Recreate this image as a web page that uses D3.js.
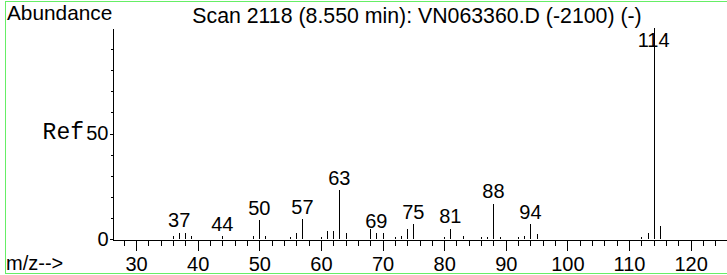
<!DOCTYPE html>
<html>
<head>
<meta charset="utf-8">
<script src="https://cdnjs.cloudflare.com/ajax/libs/d3/7.8.5/d3.min.js"></script>
<style>
  body { margin: 0; background: #fff; }
  svg text { font-family: "Liberation Sans", Arial, sans-serif; font-size: 20px; fill: #000; }
  svg .ref { font-family: "Liberation Mono", "Courier New", monospace; font-size: 23px; }
</style>
</head>
<body>
<div id="plot"></div>
<script>
// spectrum data (relative abundance, 114 = 100)
var mzValues = [36, 37, 38, 39, 44, 49, 50, 51, 55, 56, 57, 60, 61, 62, 63, 64,
  68, 69, 70, 72, 73, 74, 75, 80, 81, 83, 86, 87, 88, 89, 92, 93, 94, 95,
  112, 113, 114, 115];
var abundances = [1.2, 2.9, 3.0, 1.6, 1.3, 1.6, 9.0, 1.5, 1.0, 2.9, 9.4, 1.0, 4.0, 4.0, 23.0, 2.9,
  4.8, 2.8, 2.8, 1.0, 1.5, 4.8, 7.0, 1.0, 4.8, 1.5, 1.0, 1.0, 16.8, 1.0, 1.0, 1.5, 7.0, 2.5,
  1.0, 2.8, 100, 6.0];
var labeledPeaks = [37, 44, 50, 57, 63, 69, 75, 81, 88, 94, 114];

var xMajorTicks = [30, 40, 50, 60, 70, 80, 90, 100, 110, 120];
var xMinorTicks = d3.range(28, 126, 2);
var yMinorTicks = [0, 10, 20, 30, 40, 50, 60, 70, 80, 90];
var yLabelTicks = [0, 50];

var titleText = "Scan 2118 (8.550 min): VN063360.D (-2100) (-)";

var svgWidth = 727;
var svgHeight = 275;

var svg = d3.select("#plot")
  .append("svg")
  .attr("width", svgWidth)
  .attr("height", svgHeight);

// green frame
svg.append("rect")
  .attr("x", 5.5)
  .attr("y", 1.5)
  .attr("width", 740)
  .attr("height", 272)
  .attr("fill", "none")
  .attr("stroke", "#66ee66");

// scales
var xScale = d3.scaleLinear()
  .domain([26.1, 125.9])
  .range([112, 727]);

var yScale = d3.scaleLinear()
  .domain([0, 100])
  .range([239, 28]);

// x axis: minor ticks every 2, major every 10
var xMinorAxis = d3.axisBottom(xScale)
  .tickValues(xMinorTicks)
  .tickSize(6)
  .tickSizeOuter(0)
  .tickFormat("");

var xMajorAxis = d3.axisBottom(xScale)
  .tickValues(xMajorTicks)
  .tickSize(11)
  .tickSizeOuter(0)
  .tickPadding(6);

svg.append("g")
  .attr("transform", "translate(0,239.5)")
  .call(xMinorAxis);

svg.append("g")
  .attr("class", "x_axis")
  .attr("transform", "translate(0,239.5)")
  .call(xMajorAxis)
  .call(g => g.select(".domain").remove());

// y axis
var yMinorAxis = d3.axisLeft(yScale)
  .tickValues(yMinorTicks)
  .tickSize(2)
  .tickSizeOuter(0)
  .tickFormat("");

var yLabelAxis = d3.axisLeft(yScale)
  .tickValues(yLabelTicks)
  .tickSize(3)
  .tickPadding(1);

svg.append("g")
  .attr("transform", "translate(112.5,0)")
  .call(yMinorAxis);

svg.append("g")
  .attr("class", "y_axis")
  .attr("transform", "translate(112.5,0)")
  .call(yLabelAxis)
  .call(g => g.select(".domain").remove());

svg.selectAll(".tick text")
  .attr("font-size", null)
  .attr("font-family", null);

svg.selectAll(".domain, .tick line")
  .attr("stroke", "#000")
  .attr("shape-rendering", "crispEdges");

// peaks
var peaks = mzValues.map((m, i) => ({ mz: m, value: abundances[i] }));

svg.append("g")
  .selectAll("line")
  .data(peaks)
  .enter()
  .append("line")
  .attr("x1", d => Math.round(xScale(d.mz)) + 0.5)
  .attr("x2", d => Math.round(xScale(d.mz)) + 0.5)
  .attr("y1", yScale(0))
  .attr("y2", d => yScale(d.value))
  .attr("stroke", "#000")
  .attr("stroke-width", 1)
  .attr("shape-rendering", "crispEdges");

// peak labels
svg.append("g")
  .selectAll("text")
  .data(peaks.filter(d => labeledPeaks.includes(d.mz)))
  .enter()
  .append("text")
  .attr("x", d => xScale(d.mz))
  .attr("y", d => Math.max(yScale(d.value) - 5.5, 47))
  .attr("text-anchor", "middle")
  .text(d => d.mz);

// texts
svg.append("text")
  .attr("x", 7)
  .attr("y", 20)
  .style("font-size", "20.8px")
  .text("Abundance");

svg.append("text")
  .attr("x", 417)
  .attr("y", 23)
  .attr("text-anchor", "middle")
  .style("font-size", "21.3px")
  .text(titleText);

svg.append("text")
  .attr("class", "ref")
  .attr("x", 84)
  .attr("y", 139)
  .attr("text-anchor", "end")
  .text("Ref");

svg.append("text")
  .attr("x", 6)
  .attr("y", 270)
  .text("m/z-->");
</script>
</body>
</html>
